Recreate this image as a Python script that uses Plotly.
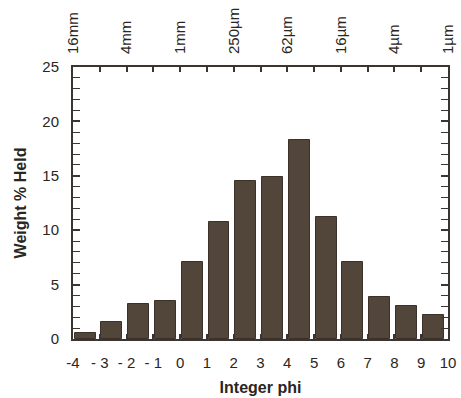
import plotly.graph_objects as go

# Integer phi class (lower bound of each one-phi bin) and weight percent retained
phi_bins = [-4, -3, -2, -1, 0, 1, 2, 3, 4, 5, 6, 7, 8, 9]
weight_pct = [0.55, 1.55, 3.2, 3.45, 7.05, 10.8, 14.5, 14.85, 18.3, 11.2, 7.05, 3.9, 3.05, 2.25]

# Bottom axis tick labels (phi)
phi_ticks = list(range(-4, 11))
phi_labels = ["-4", "- 3", "- 2", "- 1", "0", "1", "2", "3", "4", "5", "6", "7", "8", "9", "10"]

# Top axis: equivalent grain sizes at even phi values
size_ticks = [-4, -2, 0, 2, 4, 6, 8, 10]
size_labels = ["16mm", "4mm", "1mm", "250µm", "62µm", "16µm", "4µm", "1µm"]

FONT = "Liberation Sans, Arial, Helvetica, sans-serif"
INK = "#2a2622"
FRAME = "#3a3530"

fig = go.Figure()
fig.add_trace(go.Bar(
    x=phi_bins,
    y=weight_pct,
    offset=0.06,
    width=0.78,
    marker=dict(color="#52463a", line=dict(color="#3b3129", width=1)),
    showlegend=False,
))
# invisible trace that activates the top axis
fig.add_trace(go.Scatter(x=[-4, 10], y=[0, 0], xaxis="x2", mode="markers",
                         marker=dict(opacity=0), showlegend=False, hoverinfo="skip"))

top_text = []
for v in phi_ticks:
    top_text.append(size_labels[size_ticks.index(v)] if v in size_ticks else "")

fig.update_layout(
    width=461, height=398,
    margin=dict(l=73, r=13, t=67, b=59, autoexpand=False),
    paper_bgcolor="white", plot_bgcolor="white",
    font=dict(family=FONT, color=INK, size=15),
    bargap=0,
    xaxis=dict(
        range=[-4, 10], tickmode="array", tickvals=phi_ticks, ticktext=phi_labels,
        ticks="inside", ticklen=5, tickwidth=1.5, tickcolor=FRAME,
        ticklabelstandoff=9,
        showline=True, linewidth=2, linecolor=FRAME, mirror=True,
        showgrid=False, zeroline=False, automargin=False,
        tickfont=dict(size=15),
        title=dict(text="<b>Integer phi</b>", font=dict(size=16), standoff=12),
    ),
    xaxis2=dict(
        range=[-4, 10], overlaying="x", side="top", anchor="y",
        tickmode="array", tickvals=phi_ticks, ticktext=top_text,
        ticks="inside", ticklen=5, tickwidth=1.5, tickcolor=FRAME,
        ticklabelstandoff=12,
        tickangle=-90, tickfont=dict(size=15),
        showline=False, showgrid=False, zeroline=False, automargin=False,
    ),
    yaxis=dict(
        range=[0, 25], tickmode="array", tickvals=[0, 5, 10, 15, 20, 25],
        ticks="inside", ticklen=7, tickwidth=1.5, tickcolor=FRAME,
        ticklabelstandoff=9,
        minor=dict(dtick=1, ticks="inside", ticklen=4, tickwidth=1.2, tickcolor=FRAME, showgrid=False),
        showline=True, linewidth=2, linecolor=FRAME, mirror="allticks",
        showgrid=False, zeroline=False, automargin=False,
        tickfont=dict(size=15),
        title=dict(text="<b>Weight % Held</b>", font=dict(size=16), standoff=12),
    ),
)

fig.write_html("out.html")
